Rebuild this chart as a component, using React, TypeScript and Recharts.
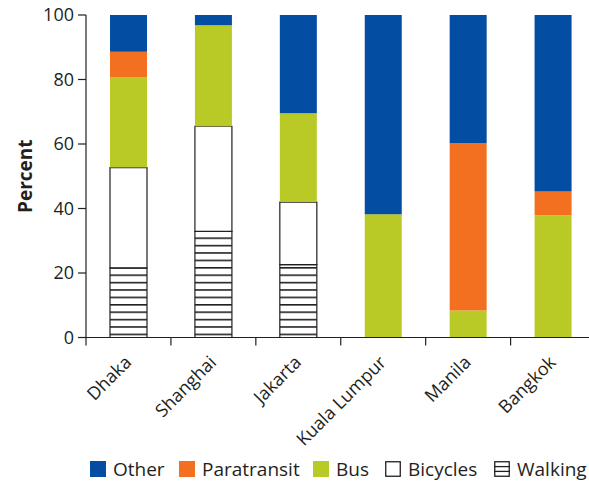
import React from "react";
import { BarChart, Bar, XAxis, YAxis, Legend } from "recharts";

const cities = ["Dhaka", "Shanghai", "Jakarta", "Kuala Lumpur", "Manila", "Bangkok"];
const walking = [21.6, 32.9, 22.6, 0, 0, 0];
const bicycles = [31.1, 32.6, 19.4, 0, 0, 0];
const bus = [27.9, 31.3, 27.5, 38.2, 8.4, 37.9];
const paratransit = [8, 0, 0, 0, 51.9, 7.4];
const other = [11.4, 3.2, 30.5, 61.8, 39.7, 54.7];
const yTicks = [0, 20, 40, 60, 80, 100];

const INK = "#231f20";
const FONT = "'Open Sans', sans-serif";

const data = cities.map((city, i) => ({
  city,
  walking: walking[i],
  bicycles: bicycles[i],
  bus: bus[i],
  paratransit: paratransit[i],
  other: other[i],
}));

// legend slots, widths picked to line up with the original
const legendItems = [
  { label: "Other", fill: "#034ea2", kind: "solid", w: 89 },
  { label: "Paratransit", fill: "#f37021", kind: "solid", w: 134 },
  { label: "Bus", fill: "#b9c926", kind: "solid", w: 72 },
  { label: "Bicycles", fill: "#fff", kind: "box", w: 109 },
  { label: "Walking", fill: "#fff", kind: "lines", w: 100 },
];

function CityTick(props: any) {
  const { x, y, payload, index, width, visibleTicksCount } = props;
  const band = width / visibleTicksCount;
  const left = x - band / 2;
  const tx = x + 4;
  const ty = y + 26;
  return (
    <g>
      <line x1={left} x2={left} y1={y} y2={y + 8} stroke={INK} strokeWidth={1.2} />
      {index === visibleTicksCount - 1 && (
        <line x1={left + band} x2={left + band} y1={y} y2={y + 8} stroke={INK} strokeWidth={1.2} />
      )}
      <text
        x={tx}
        y={ty}
        textAnchor="end"
        transform={`rotate(-45 ${tx} ${ty})`}
        fill={INK}
        fontSize={18}
        fontFamily={FONT}
      >
        {payload.value}
      </text>
    </g>
  );
}

function PercentLabel(props: any) {
  const { viewBox } = props;
  const cx = 17;
  const cy = viewBox.y + viewBox.height / 2;
  return (
    <text
      x={cx}
      y={cy}
      textAnchor="middle"
      dominantBaseline="central"
      transform={`rotate(-90 ${cx} ${cy})`}
      fill={INK}
      fontSize={19}
      fontWeight="bold"
      fontFamily={FONT}
    >
      Percent
    </text>
  );
}

function LegendSwatch({ item }: { item: any }) {
  if (item.kind === "solid") {
    return <span style={{ width: 16, height: 16, background: item.fill, display: "inline-block" }} />;
  }
  return (
    <svg width={16} height={16} style={{ display: "block" }}>
      <rect x={0.75} y={0.75} width={14.5} height={14.5} fill="#fff" stroke={INK} strokeWidth={1.3} />
      {item.kind === "lines" && (
        <>
          <line x1={0} x2={16} y1={5.6} y2={5.6} stroke={INK} strokeWidth={1.3} />
          <line x1={0} x2={16} y1={10.4} y2={10.4} stroke={INK} strokeWidth={1.3} />
        </>
      )}
    </svg>
  );
}

function ChartLegend() {
  return (
    <div style={{ display: "flex", alignItems: "center", fontFamily: FONT, fontSize: 19, color: INK }}>
      {legendItems.map((item) => (
        <div key={item.label} style={{ display: "flex", alignItems: "center", width: item.w, flex: "none" }}>
          <LegendSwatch item={item} />
          <span style={{ marginLeft: 7, lineHeight: "22px", whiteSpace: "nowrap" }}>{item.label}</span>
        </div>
      ))}
    </div>
  );
}

export default function App() {
  return (
    <div style={{ position: "fixed", left: 0, top: 0, width: 589, height: 481, overflow: "hidden", background: "#fff" }}>
      <svg width={0} height={0} style={{ position: "absolute" }}>
        <defs>
          <pattern id="walkLines" patternUnits="userSpaceOnUse" width={10} height={7.4}>
            <rect width={10} height={7.4} fill="#fff" />
            <line x1={0} x2={10} y1={0.8} y2={0.8} stroke={INK} strokeWidth={1.6} />
          </pattern>
        </defs>
      </svg>
      <div style={{ position: "absolute", left: 8, top: 8 }}>
        <BarChart
          width={590}
          height={473}
          data={data}
          margin={{ top: 7, right: 2.5, left: 0, bottom: 33.5 }}
          barSize={37}
        >
          <XAxis
            dataKey="city"
            height={110}
            interval={0}
            tickLine={false}
            tickSize={0}
            tickMargin={0}
            axisLine={{ stroke: INK, strokeWidth: 1.2 }}
            tick={<CityTick />}
          />
          <YAxis
            width={78}
            domain={[0, 100]}
            ticks={yTicks}
            interval={0}
            tickSize={8}
            tickMargin={4}
            axisLine={{ stroke: INK, strokeWidth: 1.2 }}
            tickLine={{ stroke: INK, strokeWidth: 1.2 }}
            tick={{ fill: INK, fontSize: 18, fontFamily: FONT }}
            label={<PercentLabel />}
          />
          <Legend
            layout="horizontal"
            verticalAlign="middle"
            align="center"
            wrapperStyle={{ top: 450, left: 82, width: 510 }}
            content={() => <ChartLegend />}
          />
          <Bar dataKey="walking" stackId="a" fill="url(#walkLines)" stroke={INK} strokeWidth={1.2} isAnimationActive={false} />
          <Bar dataKey="bicycles" stackId="a" fill="#fff" stroke={INK} strokeWidth={1.2} isAnimationActive={false} />
          <Bar dataKey="bus" stackId="a" fill="#b9c926" isAnimationActive={false} />
          <Bar dataKey="paratransit" stackId="a" fill="#f37021" isAnimationActive={false} />
          <Bar dataKey="other" stackId="a" fill="#034ea2" isAnimationActive={false} />
        </BarChart>
      </div>
    </div>
  );
}
